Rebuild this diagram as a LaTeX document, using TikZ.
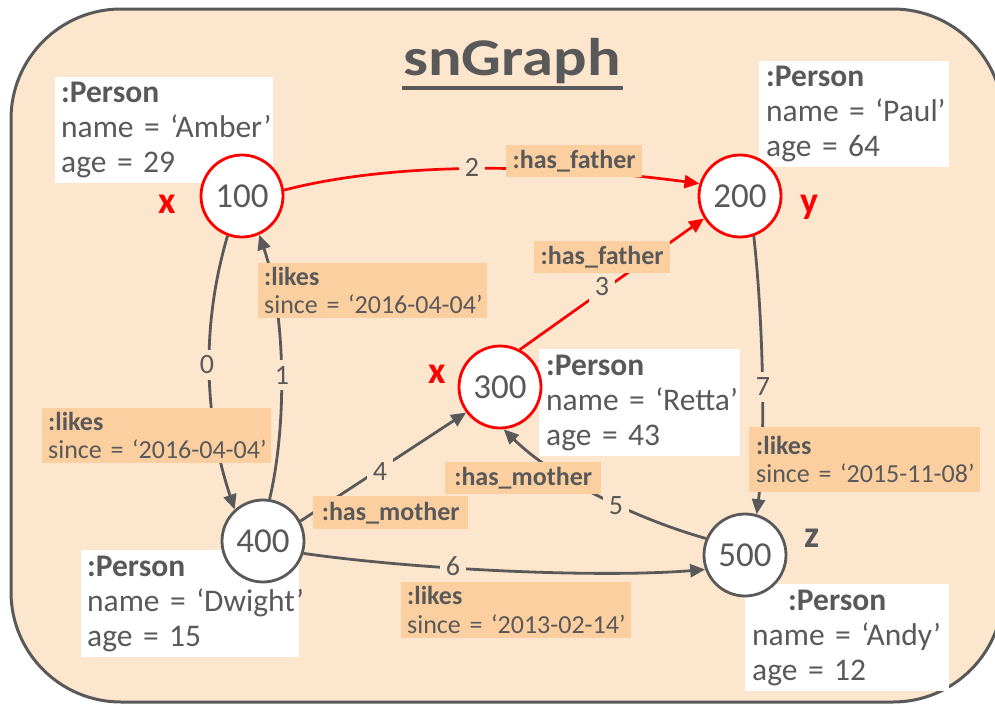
\documentclass[tikz,border=0pt]{standalone}
\usepackage{fontspec}
\setmainfont{Carlito}
\usetikzlibrary{arrows.meta}
\definecolor{bgpeach}{HTML}{FDE6CE}
\definecolor{lblpeach}{HTML}{FCCFA0}
\definecolor{txtgray}{HTML}{595959}
\definecolor{edgered}{HTML}{FF0000}
\pgfdeclarelayer{bglayer}
\pgfdeclarelayer{edgelayer}
\pgfsetlayers{bglayer,edgelayer,main}
\begin{document}
\begin{tikzpicture}[x=1pt,y=-1pt,
  frame/.style={draw=txtgray, line width=3pt, fill=bgpeach, rounded corners=110pt},
  vertex/.style={circle, draw=txtgray, line width=2.8pt, fill=white, minimum size=82pt, inner sep=0pt, text=txtgray, font=\fontsize{35}{40}\selectfont},
  redvertex/.style={vertex, draw=edgered},
  person/.style={anchor=north west, fill=white, text=txtgray, inner xsep=6pt, inner ysep=0pt, align=left, font=\fontsize{31.5}{35}\selectfont},
  lbltwo/.style={anchor=north west, fill=lblpeach, text=txtgray, inner xsep=6pt, inner ysep=0pt, align=left, font=\fontsize{26}{28.5}\selectfont},
  lblone/.style={anchor=north west, fill=lblpeach, text=txtgray, inner sep=0pt, font=\bfseries\fontsize{26}{28.5}\selectfont},
  gedge/.style={draw=txtgray, line width=2.8pt, -{Triangle[length=15pt,width=13pt]}},
  redge/.style={draw=edgered, line width=2.7pt, -{Triangle[length=15pt,width=13pt]}},
  num/.style={fill=bgpeach, text=txtgray, inner sep=6pt, font=\fontsize{28}{30}\selectfont},
  varred/.style={anchor=base, inner sep=0pt, text=edgered, font=\bfseries\fontsize{38}{40}\selectfont},
  vargray/.style={varred, text=txtgray}
]
\useasboundingbox (0,0) rectangle (995,704);
\clip (0,0) rectangle (995,704);

% vertices
\node[redvertex] (n100) at (242,196) {100};
\node[redvertex] (n200) at (740,196) {200};
\node[redvertex] (n300) at (500,387) {300};
\node[vertex] (n400) at (263,541) {400};
\node[vertex] (n500) at (745,555) {500};

\begin{pgfonlayer}{bglayer}
\draw[frame] (11,9) rectangle (1003,702);
\node[text=txtgray, font=\bfseries\fontsize{53}{60}\selectfont, anchor=base] (title) at (512,75) {\scalebox{1.18}[1]{snGraph}};
\draw[txtgray, line width=3.5pt] (402,88) -- (623,88);
\node[person, minimum width=218pt, minimum height=106pt, text width=206pt] (pamber) at (55,77) {\mbox{\textbf{:Person}}\\\mbox{name = ‘Amber’}\\\mbox{age = 29}};
\node[person, inner xsep=7pt, minimum width=190pt, minimum height=106pt, text width=176pt] (ppaul) at (759,61) {\mbox{\textbf{:Person}}\\\mbox{name = ‘Paul’}\\\mbox{age = 64}};
\node[person, inner xsep=7pt, minimum width=201pt, minimum height=107pt, text width=187pt] (pretta) at (539,349) {\mbox{\textbf{:Person}}\\\mbox{name = ‘Retta’}\\\mbox{age = 43}};
\node[person, minimum width=218pt, minimum height=107pt, text width=206pt] (pdwight) at (81,550) {\mbox{\textbf{:Person}}\\\mbox{name = ‘Dwight’}\\\mbox{age = 15}};
\node[person, inner xsep=7pt, minimum width=204pt, minimum height=107pt, text width=190pt] (pandy) at (745,584) {\mbox{\hspace*{36pt}\textbf{:Person}}\\\mbox{name = ‘Andy’}\\\mbox{age = 12}};
\end{pgfonlayer}

\begin{pgfonlayer}{edgelayer}
% edges
\draw[gedge] (n100.250) .. controls (200,330) and (205,420) .. (n400.132);
\draw[gedge] (n400.81) .. controls (288,420) and (285,310) .. (n100.294);
\draw[redge] (n100.8) .. controls (400,160) and (560,165) .. (n200.163);
\draw[redge] (n300.62) -- (n200.212);
\draw[gedge] (n400.28) -- (n300.217);
\draw[gedge] (n500.157) .. controls (640,520) and (555,480) .. (n300.275);
\draw[gedge] (n400.343) .. controls (420,570) and (600,578) .. (n500.200);
\draw[gedge] (n200.289) .. controls (763,320) and (766,440) .. (n500.74);
% edge numbers
\node[num] (k0) at (207,365) {0};
\node[num] (k1) at (282,375) {1};
\node[num] (k2) at (472,167) {2};
\node[num] (k3) at (602,287) {3};
\node[num] (k4) at (380,472) {4};
\node[num] (k5) at (616,506) {5};
\node[num] (k6) at (453,566) {6};
\node[num] (k7) at (763,387) {7};
% edge labels
\node[lbltwo, minimum width=229pt, minimum height=55pt, text width=217pt] (e0) at (42,408) {\mbox{\textbf{:likes}}\\\mbox{since = ‘2016-04-04’}};
\node[lbltwo, minimum width=229pt, minimum height=55pt, text width=217pt] (e1) at (258,263) {\mbox{\textbf{:likes}}\\\mbox{since = ‘2016-04-04’}};
\node[lblone, minimum width=136pt, minimum height=32pt] (e2) at (506,145) {:has\_father};
\node[lblone, minimum width=136pt, minimum height=32pt] (e3) at (534,241) {:has\_father};
\node[lblone, minimum width=155pt, minimum height=33pt] (e4) at (313,496) {:has\_mother};
\node[lblone, minimum width=156pt, minimum height=32pt] (e5) at (445,462) {:has\_mother};
\node[lbltwo, minimum width=230pt, minimum height=56pt, text width=218pt] (e6) at (401,582) {\mbox{\textbf{:likes}}\\\mbox{since = ‘2013-02-14’}};
\node[lbltwo, inner xsep=7pt, minimum width=231pt, minimum height=65pt, text width=217pt] (e7) at (749,427) {\mbox{\textbf{:likes}}\\\mbox{since = ‘2015-11-08’}};
\end{pgfonlayer}

% variable names
\node[varred] (vx1) at (167,213) {x};
\node[varred] (vy) at (809,213) {y};
\node[varred] (vx2) at (437,383) {x};
\node[vargray] (vz) at (812,547) {z};
\end{tikzpicture}
\end{document}
